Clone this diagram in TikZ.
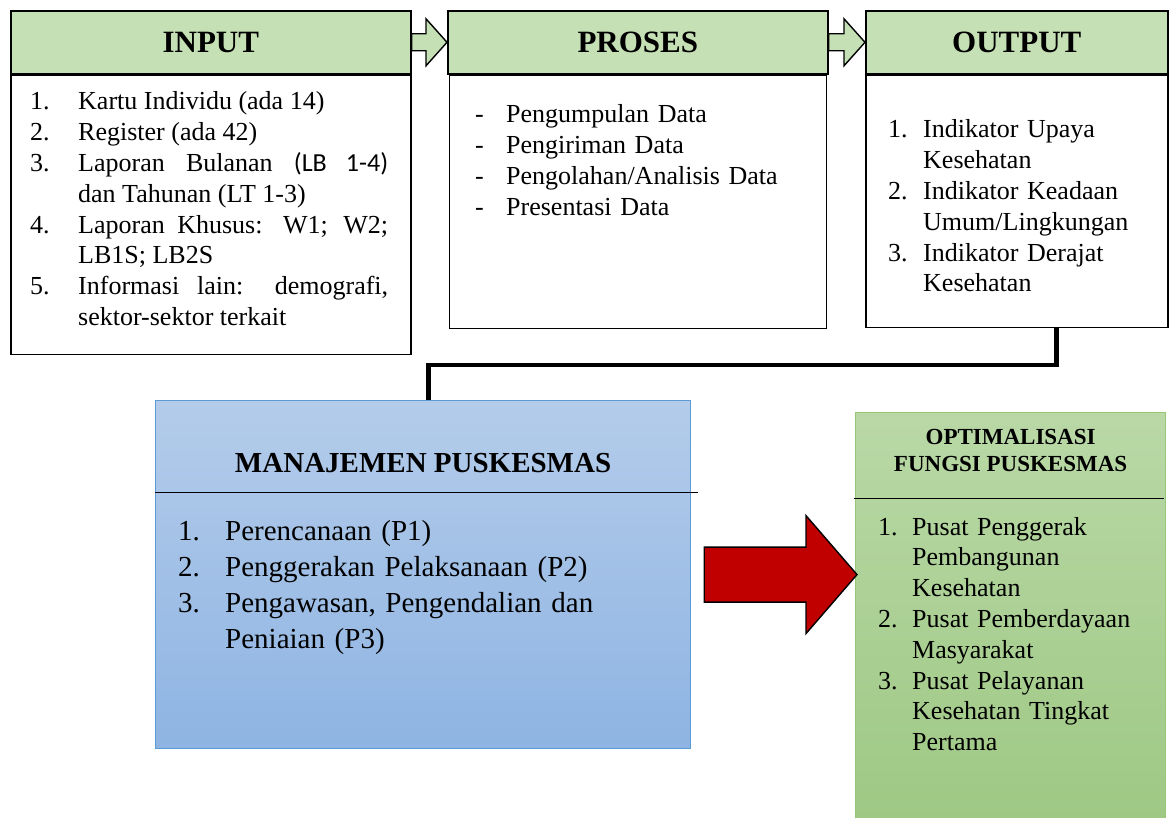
\documentclass[tikz,border=0pt]{standalone}
\usepackage{fontspec}
\setmainfont{Liberation Serif}
\newfontfamily\calibri{Carlito}
\usetikzlibrary{calc}

\definecolor{hdgreen}{RGB}{197,224,180}
\definecolor{bluetop}{RGB}{180,204,234}
\definecolor{bluebot}{RGB}{142,180,227}
\definecolor{blueline}{RGB}{91,155,213}
\definecolor{greentop}{RGB}{185,216,166}
\definecolor{greenbot}{RGB}{158,200,132}
\definecolor{greenline}{RGB}{150,200,120}
\definecolor{arrowred}{RGB}{192,0,0}

% one list row: label box of width #1, label #2, text #3
\newcommand{\listrow}[3]{\par\noindent\hangindent=#1\hangafter=1\strut\makebox[#1][l]{#2}#3\par}

\tikzset{
  head/.style={draw=black, fill=hdgreen, line width=1.6pt, minimum height=63pt,
    inner sep=0pt, anchor=north west, font=\fontsize{31}{36}\selectfont\bfseries},
  body/.style={draw=black, fill=white, line width=1.6pt, inner sep=0pt, anchor=north},
  lst/.style={inner sep=0pt, anchor=north west, font=\fontsize{26}{30.8}\selectfont},
  barrow/.style={draw=black, fill=hdgreen, line width=1.4pt, line join=miter},
  conn/.style={draw=black, line width=4.5pt},
}

\begin{document}
\begin{tikzpicture}[x=1pt, y=-1pt]
  \useasboundingbox (0,0) rectangle (1170,818);

  % --- input / proses / output ---
  \node[head, minimum width=400pt] (inhead) at (10,10) {INPUT};
  \node[body, minimum width=400pt, minimum height=279pt] (inbody) at (inhead.south) {};
  \node[head, minimum width=380pt] (prhead) at (447,10) {PROSES};
  \node[body, minimum width=377pt, minimum height=253pt] (prbody) at (prhead.south) {};
  \node[head, minimum width=302pt] (outhead) at (865,10) {OUTPUT};
  \node[body, minimum width=302pt, minimum height=252pt] (outbody) at (outhead.south) {};

  % --- block arrows between the headers ---
  \foreach \a/\b in {inhead/prhead, prhead/outhead}
    \draw[barrow] ([yshift=8.5pt]\a.east) -- ([xshift=-21pt, yshift=8.5pt]\b.west)
      -- ([xshift=-21pt, yshift=23.5pt]\b.west) -- (\b.west)
      -- ([xshift=-21pt, yshift=-23.5pt]\b.west) -- ([xshift=-21pt, yshift=-8.5pt]\b.west)
      -- ([yshift=-8.5pt]\a.east) -- cycle;

  % --- lists ---
  \node[lst, text width=358pt, align=justify] (inlist) at (30,79) {%
    \listrow{48pt}{1.}{Kartu Individu (ada 14)}
    \listrow{48pt}{2.}{Register (ada 42)}
    \listrow{48pt}{3.}{Laporan Bulanan {\calibri(LB 1-4)}\linebreak dan Tahunan (LT 1-3)}
    \listrow{48pt}{4.}{Laporan Khusus: W1; W2;\linebreak LB1S; LB2S}
    \listrow{48pt}{5.}{Informasi lain: demografi,\linebreak sektor-sektor terkait}};
  \node[lst, text width=340pt, align=left] (prlist) at (475,92) {%
    \listrow{31pt}{-}{Pengumpulan Data}
    \listrow{31pt}{-}{Pengiriman Data}
    \listrow{31pt}{-}{Pengolahan/Analisis Data}
    \listrow{31pt}{-}{Presentasi Data}};
  \node[lst, text width=272pt, align=left] (outlist) at (888,107) {%
    \listrow{35pt}{1.}{Indikator Upaya\newline Kesehatan}
    \listrow{35pt}{2.}{Indikator Keadaan\newline Umum/Lingkungan}
    \listrow{35pt}{3.}{Indikator Derajat\newline Kesehatan}};

  % --- manajemen puskesmas ---
  \node[draw=blueline, line width=1.2pt, top color=bluetop, bottom color=bluebot,
    minimum width=535pt, minimum height=348pt, anchor=north west, inner sep=0pt] (mnj) at (155,400) {};
  \draw[line width=1pt] ($(mnj.north west)+(0,92)$) -- ($(mnj.north east)+(7,92)$);
  \node[font=\fontsize{29}{33}\selectfont\bfseries] (mnjtitle) at ($(mnj.north)+(0,63)$) {MANAJEMEN PUSKESMAS};
  \node[lst, text width=480pt, align=left, font=\fontsize{29}{36}\selectfont] (mnjlist) at (178,504) {%
    \listrow{47pt}{1.}{Perencanaan (P1)}
    \listrow{47pt}{2.}{Penggerakan Pelaksanaan (P2)}
    \listrow{47pt}{3.}{Pengawasan, Pengendalian dan\newline Peniaian (P3)}};

  % --- optimalisasi fungsi puskesmas ---
  \node[draw=greenline, line width=1.2pt, top color=greentop, bottom color=greenbot,
    minimum width=310pt, minimum height=410pt, anchor=north west, inner sep=0pt] (opt) at (855,412) {};
  \draw[line width=1pt] ($(opt.north west)+(-1,86)$) -- ($(opt.north east)+(-2,86)$);
  \node[align=center, font=\fontsize{23}{27}\selectfont\bfseries] (opttitle) at ($(opt.north)+(0,38)$)
    {OPTIMALISASI\\FUNGSI PUSKESMAS};
  \node[lst, text width=280pt, align=left] (optlist) at (878,504) {%
    \listrow{34pt}{1.}{Pusat Penggerak\newline Pembangunan\newline Kesehatan}
    \listrow{34pt}{2.}{Pusat Pemberdayaan\newline Masyarakat}
    \listrow{34pt}{3.}{Pusat Pelayanan\newline Kesehatan Tingkat\newline Pertama}};

  % --- output -> manajemen ---
  \draw[conn] ($(outbody.south west)!0.63!(outbody.south east)$) -- ++(0,37)
    -| ($(mnj.north west)!0.51!(mnj.north east)$);

  % --- manajemen -> optimalisasi ---
  \coordinate (rtip) at ([xshift=2pt]opt.west |- mnj.east);
  \draw[draw=black, fill=arrowred, line width=1.4pt, line join=miter]
    ([xshift=13pt, yshift=27.5pt]mnj.east) -- ([xshift=-51pt, yshift=27.5pt]rtip)
    -- ([xshift=-51pt, yshift=59pt]rtip) -- (rtip) -- ([xshift=-51pt, yshift=-59pt]rtip)
    -- ([xshift=-51pt, yshift=-27.5pt]rtip) -- ([xshift=13pt, yshift=-27.5pt]mnj.east) -- cycle;

\end{tikzpicture}
\end{document}
